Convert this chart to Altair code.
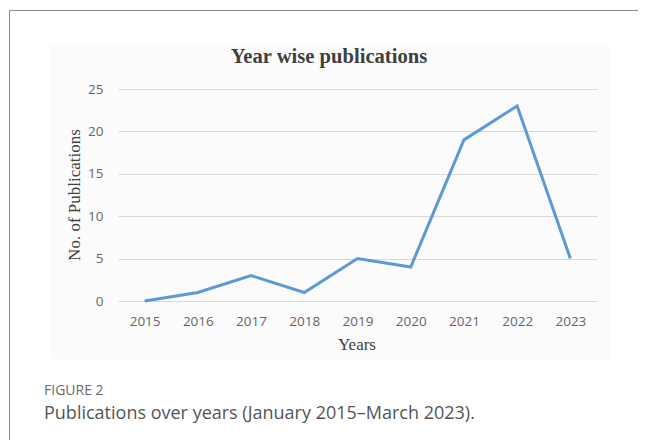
import altair as alt
import pandas as pd

years = ["2015", "2016", "2017", "2018", "2019", "2020", "2021", "2022", "2023"]
pubs = [0, 1, 3, 1, 5, 4, 19, 23, 5]

df = pd.DataFrame({"Year": years, "Publications": pubs})
one = pd.DataFrame({"k": [0]})

W, H = 479, 212

x_enc = alt.X("Year:N", sort=years, title=None,
              scale=alt.Scale(paddingInner=0, paddingOuter=0.5),
              axis=alt.Axis(labelAngle=0, ticks=False, tickSize=0, domain=False,
                            labelPadding=13, labelFont="Open Sans", labelFontSize=13.5,
                            labelColor="#555555", grid=False))
y_enc = alt.Y("Publications:Q", title=None,
              scale=alt.Scale(domain=[0, 25]),
              axis=alt.Axis(values=[0, 5, 10, 15, 20, 25], ticks=False, tickSize=0,
                            domain=False, labelPadding=15, labelFont="Open Sans",
                            labelFontSize=13.5, labelColor="#555555",
                            gridColor="#d9d9d9", gridWidth=1))

bg = alt.Chart(one).mark_rect(fill="#e0e0e0", opacity=0.12).encode(
    x=alt.value(-68), x2=alt.value(492), y=alt.value(-45), y2=alt.value(270))

line = alt.Chart(df).mark_line(color="#5b9bd5", strokeWidth=3).encode(x=x_enc, y=y_enc)

title = alt.Chart(one).mark_text(text="Year wise publications", font="Liberation Serif",
                                 fontWeight="bold", fontSize=20.6, color="#404040").encode(
    x=alt.value(211), y=alt.value(-32))

ytitle = alt.Chart(one).mark_text(text="No. of Publications", font="Liberation Serif",
                                  fontSize=17, color="#404040", angle=270).encode(
    x=alt.value(-43), y=alt.value(106))

xtitle = alt.Chart(one).mark_text(text="Years", font="Liberation Serif",
                                  fontSize=17, color="#404040").encode(
    x=alt.value(239), y=alt.value(256))

fig = alt.Chart(one).mark_text(text="FIGURE 2", font="Open Sans", fontSize=14,
                               color="#6b6b6b", align="left").encode(
    x=alt.value(44 - 118), y=alt.value(391 - 89))

cap = alt.Chart(one).mark_text(text="Publications over years (January 2015\u2013March 2023).",
                               font="Open Sans", fontSize=18, color="#555555",
                               align="left").encode(
    x=alt.value(44 - 118), y=alt.value(414 - 89))

frame_top = alt.Chart(one).mark_rule(color="#8c8c8c", strokeWidth=1).encode(
    x=alt.value(-108.5), x2=alt.value(530), y=alt.value(-78.5))
frame_left = alt.Chart(one).mark_rule(color="#8c8c8c", strokeWidth=1).encode(
    x=alt.value(-108.5), y=alt.value(-78.5), y2=alt.value(360))

chart = alt.layer(bg, line, title, ytitle, xtitle, fig, cap, frame_top, frame_left).properties(
    width=W, height=H,
    autosize=alt.AutoSizeParams(type="none"),
    padding={"left": 110, "top": 81, "right": 41, "bottom": 139},
).configure_view(stroke=None)

chart.save("out.html", embed_options={"renderer": "svg", "actions": False})
